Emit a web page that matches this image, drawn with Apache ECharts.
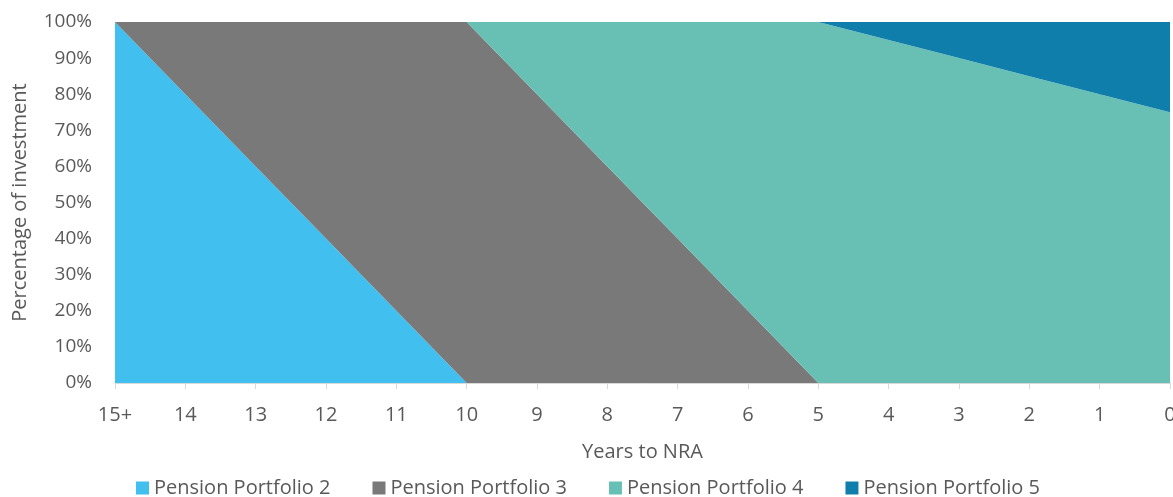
<!DOCTYPE html>
<html>
<head>
<meta charset="utf-8">
<script src="https://cdn.jsdelivr.net/npm/echarts@6/dist/echarts.min.js"></script>
<style>
  html, body { margin: 0; padding: 0; background: #fff; }
  #chart { width: 1173px; height: 497px; }
</style>
</head>
<body>
<div id="chart"></div>
<script>
const years = ['15+', '14', '13', '12', '11', '10', '9', '8', '7', '6', '5', '4', '3', '2', '1', '0'];
const portfolio2 = [100, 80, 60, 40, 20, 0, 0, 0, 0, 0, 0, 0, 0, 0, 0, 0];
const portfolio3 = [0, 20, 40, 60, 80, 100, 80, 60, 40, 20, 0, 0, 0, 0, 0, 0];
const portfolio4 = [0, 0, 0, 0, 0, 0, 20, 40, 60, 80, 100, 95, 90, 85, 80, 75];
const portfolio5 = [0, 0, 0, 0, 0, 0, 0, 0, 0, 0, 0, 5, 10, 15, 20, 25];

const textColor = '#595959';
const font = 'Open Sans';

function area(name, values, color) {
  return {
    name: name,
    type: 'line',
    stack: 'total',
    data: values,
    symbol: 'none',
    lineStyle: { width: 0 },
    areaStyle: { color: color, opacity: 1 },
    itemStyle: { color: color },
    silent: true
  };
}

const chart = echarts.init(document.getElementById('chart'), null, { renderer: 'canvas' });
chart.setOption({
  animation: false,
  textStyle: { fontFamily: font },
  grid: { left: 115, right: 3, top: 22, bottom: 114, outerBoundsMode: 'none', containLabel: false },
  legend: {
    left: 131,
    top: 473,
    itemWidth: 13,
    itemHeight: 13,
    itemGap: 42,
    icon: 'rect',
    textStyle: { color: textColor, fontSize: 20, fontFamily: font },
    data: ['Pension Portfolio 2', 'Pension Portfolio 3', 'Pension Portfolio 4', 'Pension Portfolio 5']
  },
  xAxis: {
    type: 'category',
    data: years,
    boundaryGap: false,
    name: 'Years to NRA',
    nameLocation: 'middle',
    nameGap: 59,
    nameTextStyle: { color: textColor, fontSize: 20 },
    axisLine: { lineStyle: { color: '#d9d9d9', width: 1.5 } },
    axisTick: { show: true, length: 6, lineStyle: { color: '#d9d9d9' } },
    axisLabel: { color: textColor, fontSize: 20, margin: 22 }
  },
  yAxis: {
    type: 'value',
    min: 0,
    max: 100,
    interval: 10,
    name: 'Percentage of investment',
    nameLocation: 'middle',
    nameGap: 85,
    nameTextStyle: { color: textColor, fontSize: 20 },
    axisLine: { show: false },
    axisTick: { show: false },
    splitLine: { show: true, lineStyle: { color: '#d9d9d9' } },
    axisLabel: { color: textColor, fontSize: 19, margin: 23, formatter: '{value}%' }
  },
  series: [
    area('Pension Portfolio 2', portfolio2, '#41bfee'),
    area('Pension Portfolio 3', portfolio3, '#797979'),
    area('Pension Portfolio 4', portfolio4, '#68c0b4'),
    area('Pension Portfolio 5', portfolio5, '#0f7eaa')
  ]
});
</script>
</body>
</html>
